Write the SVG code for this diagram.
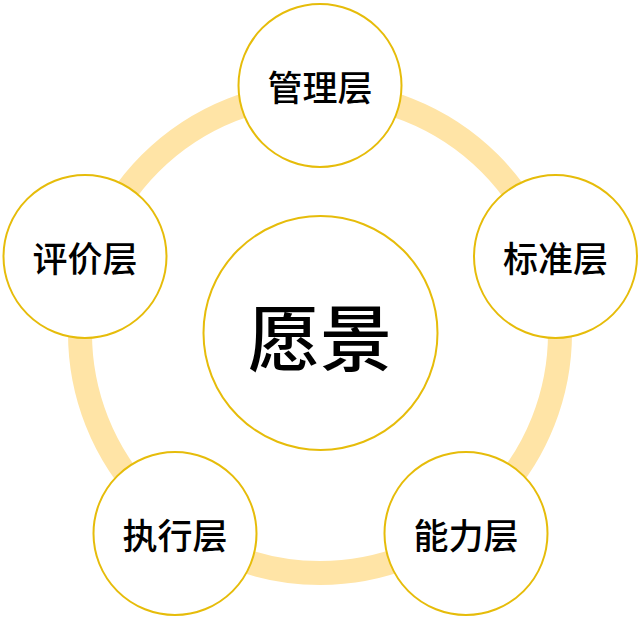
<svg xmlns="http://www.w3.org/2000/svg" width="642" height="626" viewBox="0 0 642 626">
<style>
.node{fill:#FFFFFF;stroke:#E6BC0A;stroke-width:2}
.lbl{font-family:"Noto Sans CJK SC","Noto Sans",sans-serif;font-size:35px;font-weight:500;fill:#000;text-anchor:middle;dominant-baseline:central}
.big{font-size:72px}
</style>
<rect width="642" height="626" fill="#FFFFFF"/>
<g id="connectors">
<circle cx="320" cy="333" r="240" fill="none" stroke="#FFE4A6" stroke-width="24"/>
</g>
<g id="center">
<circle class="node" cx="320.5" cy="333" r="117"/>
<text class="lbl big" x="320" y="333">愿景</text>
</g>
<g id="top">
<circle class="node" cx="320" cy="85.5" r="81.5"/>
<text class="lbl" x="320" y="85.5">管理层</text>
</g>
<g id="right">
<circle class="node" cx="555.5" cy="256.5" r="81.5"/>
<text class="lbl" x="555.5" y="256.5">标准层</text>
</g>
<g id="bottom-right">
<circle class="node" cx="466" cy="533.5" r="81.5"/>
<text class="lbl" x="466" y="533.5">能力层</text>
</g>
<g id="bottom-left">
<circle class="node" cx="175" cy="533.5" r="81.5"/>
<text class="lbl" x="175" y="533.5">执行层</text>
</g>
<g id="left">
<circle class="node" cx="85" cy="256.5" r="81.5"/>
<text class="lbl" x="85" y="256.5">评价层</text>
</g>
</svg>
